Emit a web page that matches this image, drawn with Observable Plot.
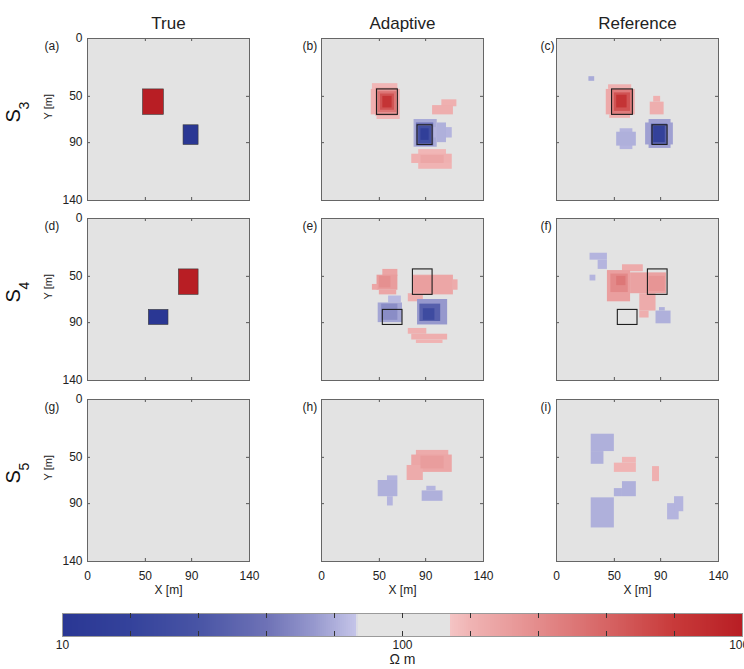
<!DOCTYPE html>
<html><head><meta charset="utf-8">
<script src="https://cdn.jsdelivr.net/npm/d3@7"></script>
<script src="https://cdn.jsdelivr.net/npm/@observablehq/plot@0.6"></script>
<style>
body{margin:0;background:#fff;overflow:hidden;font-family:"Liberation Sans",Arial,sans-serif;}
#root{position:relative;width:744px;height:669px;overflow:hidden;}
.cell{position:absolute;}
.cell svg{max-width:none;display:block;}
</style></head><body><div id="root"></div>
<script>
// ---------- data ----------
const axisTicks = [0, 50, 90, 140];
const columnTitles = ["True", "Adaptive", "Reference"];
const rowSubscripts = ["3", "4", "5"];
const panelLetters = [["(a)", "(b)", "(c)"], ["(d)", "(e)", "(f)"], ["(g)", "(h)", "(i)"]];
// cells: [x1, x2, y1, y2, resistivity (Ω m)]
const trueS3 = [[48, 66, 44, 66, 1000], [83, 96, 75, 92, 10]];
const trueS4 = [[79, 96, 44, 66, 1000], [53, 70, 79, 92, 10]];
const trueS5 = [];
const adaptiveS3 = [
  [44, 66, 39, 44, 155], [43, 68, 44, 66, 165], [48, 68, 66, 70, 155],
  [47, 66, 43, 67, 230], [49, 65, 46, 64, 330], [51, 63, 48, 62, 480], [53, 61, 50, 60, 700],
  [104, 117, 53, 59, 165], [96, 114, 58, 66, 170],
  [80, 100, 70, 94, 62], [96, 113, 77, 86, 66], [100, 108, 73, 90, 64],
  [82, 97, 73, 93, 40], [84, 95, 76, 91, 22], [86, 93, 78, 88, 14],
  [84, 108, 96, 101, 155], [78, 113, 100, 108, 165], [84, 113, 108, 113, 160], [86, 106, 101, 108, 185]
];
const referenceS3 = [
  [28, 33, 33, 37, 62],
  [45, 65, 40, 44, 165], [43, 68, 44, 66, 180], [46, 64, 66, 69, 165],
  [48, 66, 44, 66, 300], [50, 64, 47, 63, 480], [52, 61, 49, 60, 700],
  [84, 90, 50, 55, 165], [81, 93, 55, 66, 170],
  [55, 66, 78, 96, 66], [52, 69, 81, 93, 64],
  [80, 99, 70, 95, 58], [77, 101, 73, 92, 58], [82, 96, 74, 92, 30], [84, 94, 76, 90, 15]
];
const adaptiveS4 = [
  [53, 66, 44, 50, 190], [48, 66, 49, 62, 205], [44, 49, 57, 62, 185], [50, 65, 62, 66, 185], [50, 60, 50, 60, 240],
  [79, 114, 49, 66, 185], [114, 118, 53, 62, 175], [75, 88, 65, 72, 170], [80, 96, 50, 64, 200],
  [58, 69, 67, 73, 68], [49, 70, 73, 90, 60], [52, 66, 74, 88, 50],
  [83, 109, 70, 92, 55], [85, 103, 74, 89, 30], [88, 98, 78, 88, 20],
  [75, 91, 95, 100, 165], [78, 109, 100, 105, 170], [82, 105, 105, 108, 160]
];
const referenceS4 = [
  [29, 44, 30, 36, 66], [36, 44, 36, 44, 66], [29, 34, 49, 54, 66],
  [57, 75, 40, 46, 175], [44, 64, 45, 72, 200], [64, 95, 47, 65, 195],
  [72, 86, 65, 80, 175], [72, 80, 80, 86, 170], [80, 94, 50, 63, 225],
  [47, 62, 48, 64, 260], [52, 60, 50, 58, 320],
  [86, 99, 80, 91, 64], [89, 94, 77, 80, 64]
];
const adaptiveS5 = [
  [82, 110, 44, 49, 175], [78, 113, 48, 63, 185], [74, 88, 57, 70, 175], [86, 106, 49, 60, 205],
  [57, 66, 66, 70, 66], [49, 66, 70, 84, 64], [57, 62, 84, 92, 66],
  [91, 99, 75, 79, 66], [87, 105, 79, 88, 64]
];
const referenceS5 = [
  [30, 50, 30, 45, 64], [30, 41, 45, 56, 64],
  [57, 69, 50, 55, 158], [50, 69, 55, 63, 160],
  [83, 89, 58, 71, 165],
  [57, 69, 71, 84, 64], [50, 57, 77, 84, 64],
  [30, 50, 85, 111, 64],
  [96, 106, 90, 104, 66], [102, 110, 84, 97, 66]
];
const colorbarLabels = [10, 100, 1000];
const colorbarTicks = [15.85, 25.12, 39.81, 63.1, 100, 158.5, 251.2, 398.1, 631];
const colorStops = [10, 15.8, 25, 40, 55, 73, 74, 138, 139, 158, 250, 400, 630, 1000];
const colorRange = ["#2a3794", "#34429b", "#4854a5", "#6e72b6", "#9698cd", "#c4c4e8", "#e3e3e3",
  "#e3e3e3", "#f4c4c4", "#f0b4b4", "#e48c8c", "#d66464", "#c83a3a", "#b81e24"];

// ---------- layout ----------
const panels = [[trueS3, adaptiveS3, referenceS3], [trueS4, adaptiveS4, referenceS4], [trueS5, adaptiveS5, referenceS5]];
const outlines = [[[], trueS3, trueS3], [[], trueS4, trueS4], [[], [], []]];
const P = 162;
const colLeft = [0, 285, 520], colRight = [285, 520, 744], panelX = [87, 321, 556];
const rowTop = [0, 208, 389], rowBottom = [208, 389, 600], panelY = [38, 218, 399];
const letterDx = [-43, -19, -16];
const fontFamily = '"Liberation Sans", Arial, sans-serif';
const colorScale = {type: "log", domain: colorStops, range: colorRange, interpolate: "rgb"};
const root = document.getElementById("root");

function place(el, left, top, w, h) {
  const d = document.createElement("div");
  d.className = "cell";
  d.style.left = left + "px"; d.style.top = top + "px";
  d.style.width = w + "px"; d.style.height = h + "px";
  d.appendChild(el);
  root.appendChild(d);
}

const cellOpts = {x1: d => d[0], x2: d => d[1], y1: d => d[2], y2: d => d[3]};

for (let r = 0; r < 3; r++) {
  for (let c = 0; c < 3; c++) {
    const W = colRight[c] - colLeft[c], H = rowBottom[r] - rowTop[r];
    const ml = panelX[c] - colLeft[c], mt = panelY[r] - rowTop[r];
    const mr = W - ml - P, mb = H - mt - P;
    const marks = [
      Plot.frame({fill: "#e3e3e3"}),
      Plot.rect(panels[r][c], {...cellOpts, fill: d => d[4],
        ...(c === 0 ? {stroke: "#3a3a3a", strokeWidth: 0.6} : {})}),
      Plot.rect(outlines[r][c], {...cellOpts, fill: "none", stroke: "#1e1e1e", strokeWidth: 1.1}),
      Plot.tickX(axisTicks, {x: d => d, stroke: "#555", insetTop: P - 3}),
      Plot.tickX(axisTicks, {x: d => d, stroke: "#555", insetBottom: P - 3}),
      Plot.tickY(axisTicks, {y: d => d, stroke: "#555", insetLeft: P - 3}),
      Plot.tickY(axisTicks, {y: d => d, stroke: "#555", insetRight: P - 3}),
      Plot.frame({stroke: "#666", strokeWidth: 1}),
      Plot.text([panelLetters[r][c]], {text: d => d, frameAnchor: "top-left", dx: letterDx[c], dy: 3, fontSize: 12, fill: "#222"})
    ];
    if (r === 0) {
      marks.push(Plot.text([columnTitles[c]], {text: d => d, frameAnchor: "top", dy: -21.5, fontSize: 17, fill: "#222"}));
    }
    if (c === 0) {
      marks.push(Plot.axisY(axisTicks, {tickSize: 0, tickPadding: 5, fontSize: 12, label: null, fill: "#222"}));
      marks.push(Plot.text(["Y [m]"], {text: d => d, frameAnchor: "left", dx: -39, rotate: -90, fontSize: 11, fill: "#222"}));
      marks.push(Plot.text(["S"], {text: d => d, frameAnchor: "left", dx: -74, dy: 3, rotate: -90, fontSize: 20, fill: "#111"}));
      marks.push(Plot.text([rowSubscripts[r]], {text: d => d, frameAnchor: "left", dx: -63, dy: -10, rotate: -90, fontSize: 14, fill: "#111"}));
    }
    if (r === 2) {
      marks.push(Plot.axisX(axisTicks, {tickSize: 0, tickPadding: 10, fontSize: 12, label: null, fill: "#222"}));
      marks.push(Plot.text(["X [m]"], {text: d => d, frameAnchor: "bottom", dy: 32, fontSize: 12, fill: "#222"}));
    }
    const svg = Plot.plot({
      width: W, height: H,
      marginLeft: ml, marginRight: mr, marginTop: mt, marginBottom: mb,
      x: {domain: [0, 140], ...(r === 2 ? {} : {axis: null})},
      y: {domain: [0, 140], reverse: true, ...(c === 0 ? {} : {axis: null})},
      color: colorScale,
      style: {fontFamily, fontSize: "12px", background: "transparent", color: "#222", overflow: "visible"},
      marks
    });
    place(svg, colLeft[c], rowTop[r], W, H);
  }
}

// ---------- colorbar ----------
const N = 340;
const ramp = d3.range(N).map(i => [Math.pow(10, 1 + 2 * i / N), Math.pow(10, 1 + 2 * (i + 1) / N)]);
const barH = 23;
const cb = Plot.plot({
  width: 744, height: 69,
  marginLeft: 62, marginRight: 2, marginTop: 13, marginBottom: 33,
  x: {type: "log", domain: [10, 1000], axis: null},
  color: colorScale,
  style: {fontFamily, fontSize: "12px", background: "transparent", color: "#222", overflow: "visible"},
  marks: [
    Plot.rect(ramp, {x1: d => d[0], x2: d => d[1], fill: d => Math.sqrt(d[0] * d[1]), shapeRendering: "crispEdges"}),
    Plot.frame({stroke: "#9a9a9a"}),
    Plot.tickX(colorbarTicks, {x: d => d, stroke: "#333", insetBottom: barH - 5}),
    Plot.tickX(colorbarTicks, {x: d => d, stroke: "#333", insetTop: barH - 5}),
    Plot.text(colorbarLabels, {x: d => d, text: d => String(d), frameAnchor: "bottom", dy: 12, fontSize: 12, fill: "#222"}),
    Plot.text(["Ω m"], {text: d => d, frameAnchor: "bottom", dy: 27, fontSize: 14, fill: "#222"})
  ]
});
place(cb, 0, 600, 744, 69);
</script>
</body></html>
